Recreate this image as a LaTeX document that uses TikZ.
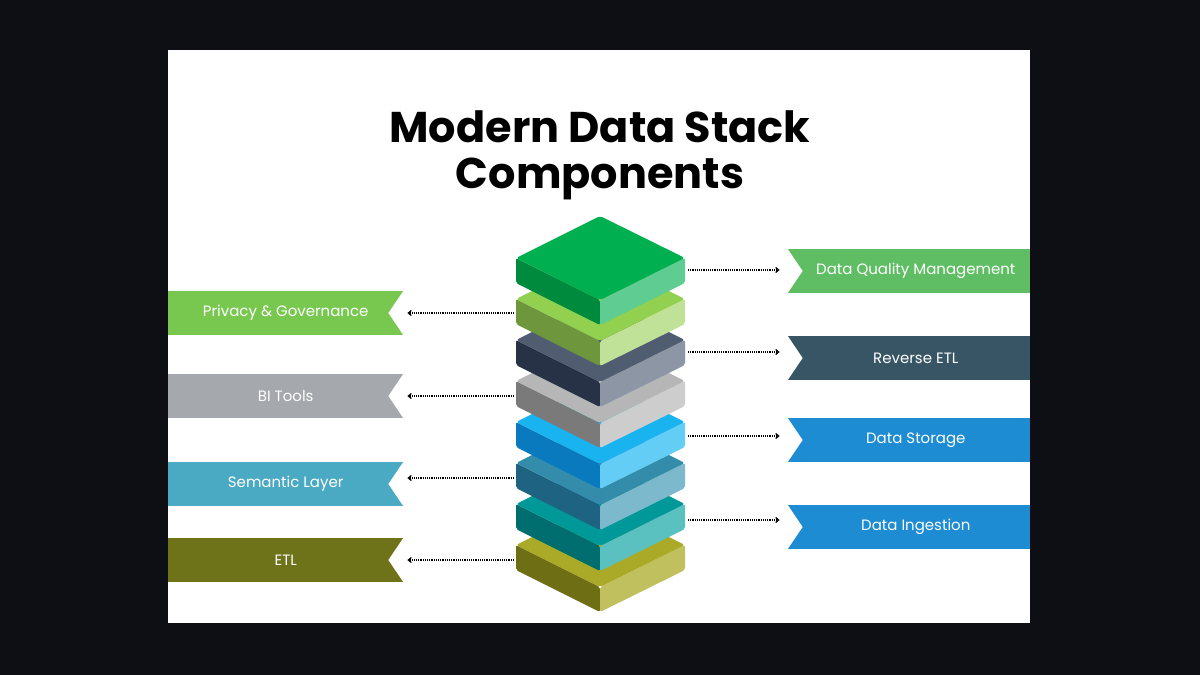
\documentclass[tikz,border=0pt]{standalone}
\usepackage{fontspec}
\setmainfont{Poppins}
\usetikzlibrary{positioning,arrows.meta}
\definecolor{bgdark}{RGB}{14,15,20}
\definecolor{qualT}{RGB}{0,176,80}\definecolor{qualL}{RGB}{0,138,62}\definecolor{qualR}{RGB}{95,205,145}
\definecolor{privT}{RGB}{146,208,80}\definecolor{privL}{RGB}{110,150,60}\definecolor{privR}{RGB}{192,226,152}
\definecolor{revT}{RGB}{80,92,112}\definecolor{revL}{RGB}{40,50,70}\definecolor{revR}{RGB}{140,150,165}
\definecolor{biT}{RGB}{182,182,182}\definecolor{biL}{RGB}{122,122,122}\definecolor{biR}{RGB}{205,205,205}
\definecolor{storT}{RGB}{25,180,240}\definecolor{storL}{RGB}{10,122,190}\definecolor{storR}{RGB}{100,205,245}
\definecolor{semT}{RGB}{50,140,170}\definecolor{semL}{RGB}{30,100,130}\definecolor{semR}{RGB}{125,185,205}
\definecolor{ingT}{RGB}{0,152,152}\definecolor{ingL}{RGB}{0,110,110}\definecolor{ingR}{RGB}{90,192,192}
\definecolor{etlT}{RGB}{170,170,40}\definecolor{etlL}{RGB}{110,110,20}\definecolor{etlR}{RGB}{192,192,95}
\definecolor{bQual}{RGB}{95,190,100}
\definecolor{bRev}{RGB}{55,85,100}
\definecolor{bBlue}{RGB}{30,140,210}
\definecolor{bPriv}{RGB}{120,200,80}
\definecolor{bBI}{RGB}{165,168,172}
\definecolor{bSem}{RGB}{75,170,195}
\definecolor{bEtl}{RGB}{110,115,25}
% one slab of the stack, centred at (600,#1)
\newcommand{\slab}[4]{
  \fill[#3, rounded corners=2pt] (516,#1) -- (600,#1+42) -- (600,#1+67) -- (516,#1+25) -- cycle;
  \fill[#4, rounded corners=2pt] (685,#1) -- (600,#1+42) -- (600,#1+67) -- (685,#1+25) -- cycle;
  \fill[#2, rounded corners=3pt] (600,#1-42) -- (685,#1) -- (600,#1+42) -- (516,#1) -- cycle;
}
\tikzset{
  banner/.style={fill=#1, text=white, minimum height=44pt, inner sep=0pt, font=\fontsize{15}{18}\selectfont},
  lbanner/.style={banner=#1, minimum width=235pt, anchor=west},
  rbanner/.style={banner=#1, minimum width=242pt, anchor=east},
  link/.style={densely dotted, line width=1.2pt, -{Straight Barb[length=3pt,width=5pt]}},
}
\begin{document}
\begin{tikzpicture}[x=1pt,y=-1pt]
\fill[bgdark] (0,0) rectangle (1200,675);
\fill[white] (168,50) rectangle (1030,623);
\node[font=\fontsize{43}{46}\bfseries\selectfont, align=center] (title) at (600,155) {Modern Data Stack\\Components};
% the stack, bottom first
\slab{545}{etlT}{etlL}{etlR}
\slab{504}{ingT}{ingL}{ingR}
\slab{463}{semT}{semL}{semR}
\slab{422}{storT}{storL}{storR}
\slab{381}{biT}{biL}{biR}
\slab{340}{revT}{revL}{revR}
\slab{299}{privT}{privL}{privR}
\slab{258}{qualT}{qualL}{qualR}
% anchors on the stack
\coordinate (sQual) at (688,270);
\coordinate (sRev) at (688,352);
\coordinate (sStor) at (688,436);
\coordinate (sIng) at (688,520);
\coordinate (sPriv) at (514,313);
\coordinate (sBI) at (514,396);
\coordinate (sSem) at (514,478);
\coordinate (sEtl) at (514,560);
% banners
\node[rbanner=bQual] (quality) at (1030,271) {\hspace{14pt}Data Quality Management};
\node[rbanner=bRev] (reverse) at (1030,358) {\hspace{14pt}Reverse ETL};
\node[rbanner=bBlue] (storage) at (1030,440) {\hspace{14pt}Data Storage};
\node[rbanner=bBlue] (ingest) at (1030,527) {\hspace{14pt}Data Ingestion};
\node[lbanner=bPriv] (privacy) at (168,313) {Privacy \& Governance\hspace{14pt}};
\node[lbanner=bBI] (bitools) at (168,396) {BI Tools\hspace{14pt}};
\node[lbanner=bSem] (semantic) at (168,484) {Semantic Layer\hspace{14pt}};
\node[lbanner=bEtl] (etl) at (168,560) {ETL\hspace{14pt}};
% notches
\foreach \b in {quality,reverse,storage,ingest}
  \fill[white] (\b.north west) -- ([xshift=15pt]\b.west) -- (\b.south west) -- cycle;
\foreach \b in {privacy,bitools,semantic,etl}
  \fill[white] (\b.north east) -- ([xshift=-15pt]\b.east) -- (\b.south east) -- cycle;
% links
\draw[link] (sQual) -- ([xshift=-8pt]quality.west |- sQual);
\draw[link] (sRev) -- ([xshift=-8pt]reverse.west |- sRev);
\draw[link] (sStor) -- ([xshift=-8pt]storage.west |- sStor);
\draw[link] (sIng) -- ([xshift=-8pt]ingest.west |- sIng);
\draw[link] (sPriv) -- ([xshift=4pt]privacy.east |- sPriv);
\draw[link] (sBI) -- ([xshift=4pt]bitools.east |- sBI);
\draw[link] (sSem) -- ([xshift=4pt]semantic.east |- sSem);
\draw[link] (sEtl) -- ([xshift=4pt]etl.east |- sEtl);
\end{tikzpicture}
\end{document}
